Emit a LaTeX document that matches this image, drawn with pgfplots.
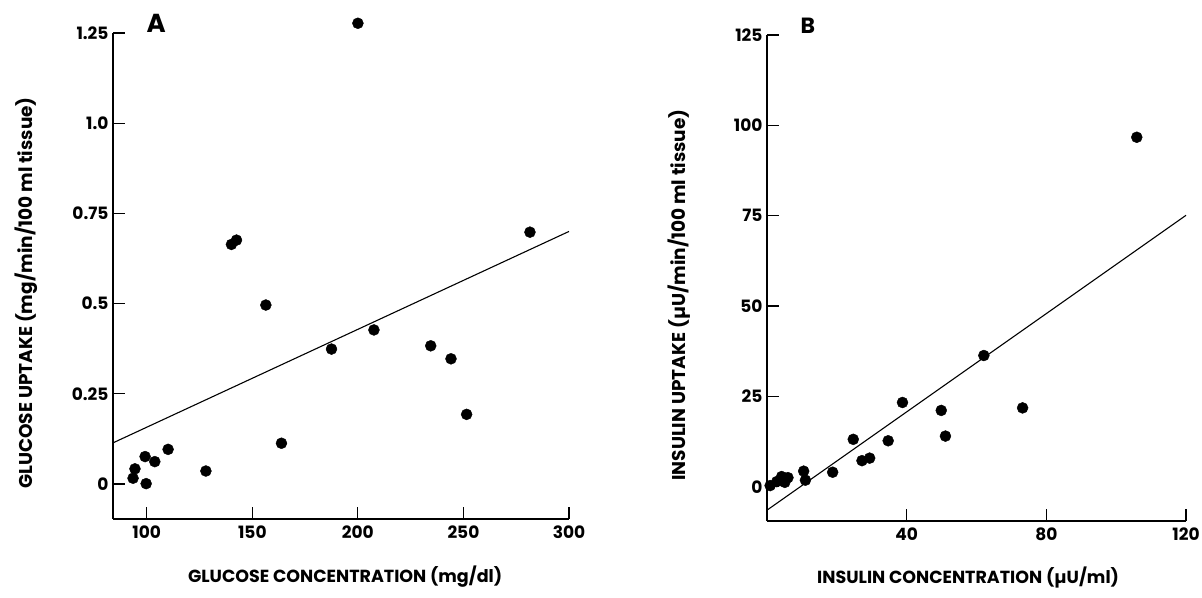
\documentclass[border=0pt]{standalone}
\usepackage{fontspec}
\setmainfont{Poppins}
\usepackage{pgfplots}
\pgfplotsset{compat=1.18}
\pgfplotsset{
  panel/.style={
    scale only axis, anchor=south west, clip=false,
    axis x line*=bottom, axis y line*=left,
    axis line style={line width=1.4pt,-},
    tick align=inside, major tick length=12pt,
    tick style={line width=1.2pt,black},
    /pgf/number format/assume math mode=true,
    ticklabel style={font=\fontsize{17}{20}\selectfont\bfseries},
    yticklabel style={xshift=-1pt},
    xticklabel style={yshift=-3pt},
    label style={font=\fontsize{17.5}{21}\selectfont\bfseries},
    ylabel style={font=\fontsize{18.5}{22}\selectfont\bfseries},
    minor tick num=0,
  }
}
\begin{document}
\begin{tikzpicture}[x=1pt,y=1pt]
\path[use as bounding box] (0,0) rectangle (1202,597);
% Panel A
\begin{axis}[panel, at={(113pt,78pt)}, width=456pt, height=486pt,
  xmin=84, xmax=300, ymin=-0.097, ymax=1.25,
  xtick={100,150,200,250,300},
  ytick={0,0.25,0.5,0.75,1,1.25},
  yticklabels={0,0.25,0.5,0.75,1.0,1.25},
  xlabel={GLUCOSE CONCENTRATION (mg/dl)},
  ylabel={GLUCOSE UPTAKE (mg/min/100 ml tissue)},
  xlabel style={at={(axis description cs:0.509,-0.119)}, anchor=center},
  ylabel style={at={(axis description cs:-0.19,0.465)}, anchor=center},
]
\addplot[only marks, mark=*, mark size=5.5pt, black] coordinates {
  (200,1.277) (140.1,0.664) (142.5,0.676) (156.4,0.496) (187.5,0.374)
  (163.8,0.113) (110.1,0.096) (99.2,0.076) (103.8,0.062) (94.4,0.042)
  (93.5,0.016) (99.7,0.001) (128,0.036) (207.6,0.427) (234.5,0.383)
  (244.1,0.347) (251.5,0.193) (281.5,0.698)
};
\addplot[black, line width=1.1pt] coordinates {(84,0.114) (300,0.700)};
\node[anchor=base west, font=\fontsize{26}{30}\selectfont\bfseries] at (axis description cs:0.066,1.0) {A};
\end{axis}
% Panel B
\begin{axis}[panel, at={(767pt,76pt)}, width=419pt, height=486pt,
  xmin=0, xmax=120, ymin=-9.5, ymax=125,
  xtick={40,80,120},
  ytick={0,25,50,75,100,125},
  xlabel={INSULIN CONCENTRATION (µU/ml)},
  ylabel={INSULIN UPTAKE (µU/min/100 ml tissue)},
  xlabel style={at={(axis description cs:0.48,-0.117)}, anchor=center},
  ylabel style={at={(axis description cs:-0.21,0.465)}, anchor=center},
]
\addplot[only marks, mark=*, mark size=5.5pt, black] coordinates {
  (0.9,0.3) (2.8,1.4) (4.2,2.8) (5.1,1.2) (6,2.5) (10.5,4.3) (11,1.8)
  (18.8,4.0) (24.7,13.1) (27.2,7.2) (29.4,7.9) (34.7,12.7) (38.8,23.3)
  (49.9,21.1) (51.1,14.0) (62.1,36.3) (73.2,21.8) (105.9,96.7)
};
\addplot[black, line width=1.1pt] coordinates {(0,-6.5) (120,75.1)};
\node[anchor=base west, font=\fontsize{22}{26}\selectfont\bfseries] at (axis description cs:0.072,1.004) {B};
\end{axis}
\end{tikzpicture}
\end{document}
